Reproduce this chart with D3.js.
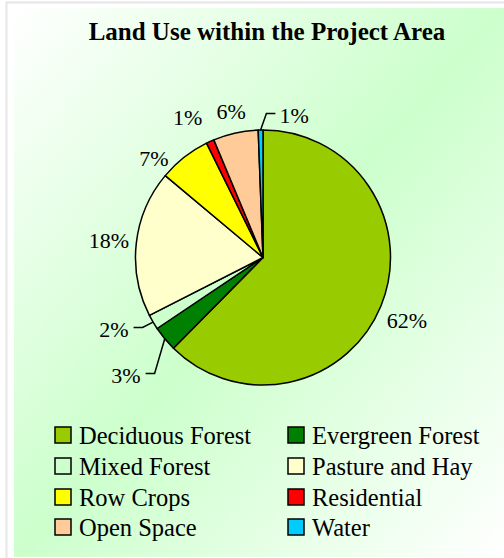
<!DOCTYPE html>
<html><head><meta charset="utf-8">
<script src="https://cdn.jsdelivr.net/npm/d3@7"></script>
<style>html,body{margin:0;padding:0;background:#fff;}svg{display:block;}</style>
</head><body>
<script>
const categories = ["Deciduous Forest","Evergreen Forest","Mixed Forest","Pasture and Hay","Row Crops","Residential","Open Space","Water"];
const values = [62.4, 3.2, 1.9, 18.6, 6.6, 1.0, 5.7, 0.6];
const pctLabels = ["62%","3%","2%","18%","7%","1%","6%","1%"];
const colors = ["#99cc00","#008000","#ccffcc","#ffffcc","#ffff00","#ff0000","#ffcc99","#00ccff"];
const title = "Land Use within the Project Area";

// label layout (polar: angle in degrees clockwise from 12 o'clock, radius), leader flag
const labelLayout = [
  {a:113.5, r:157},
  {a:229.4, r:180.5, leader:"left"},
  {a:244.4, r:165.3, leader:"left"},
  {a:276.5, r:155},
  {a:312.4, r:147.6},
  {a:331.7, r:159},
  {a:347.7, r:150},
  {a:12.3, r:145.8, leader:"right"}
];

const W=504, H=558;
const svg = d3.select("body").append("svg").attr("width",W).attr("height",H);
const defs = svg.append("defs");
const grad = defs.append("linearGradient").attr("id","bg").attr("x1","0").attr("y1","0").attr("x2","1").attr("y2","1");
grad.append("stop").attr("offset","0").attr("stop-color","#ffffff");
grad.append("stop").attr("offset","0.5").attr("stop-color","#ccffcc");
grad.append("stop").attr("offset","1").attr("stop-color","#ffffff");

svg.append("rect").attr("x",14).attr("y",8).attr("width",W-14).attr("height",549).attr("fill","url(#bg)");
svg.append("line").attr("x1",6.5).attr("y1",1.5).attr("x2",6.5).attr("y2",H).attr("stroke","#e6e6e6").attr("stroke-width",2);
svg.append("line").attr("x1",6).attr("y1",2.5).attr("x2",W).attr("y2",2.5).attr("stroke","#e6e6e6").attr("stroke-width",2);

svg.append("text").attr("x",267).attr("y",40).attr("text-anchor","middle")
  .attr("font-family","'Liberation Serif', 'Times New Roman', serif").attr("font-weight","bold")
  .attr("font-size","25px").attr("fill","#000").text(title);

const cx=263, cy=257.5, R=127.5;
const data = categories.map((c,i)=>({cat:c, value:values[i], label:pctLabels[i], color:colors[i], lay:labelLayout[i]}));
const pie = d3.pie().value(d=>d.value).sort(null);
const arcs = pie(data);
const arc = d3.arc().innerRadius(0).outerRadius(R);
const g = svg.append("g").attr("transform",`translate(${cx},${cy})`);
g.selectAll("path.slice").data(arcs).join("path").attr("class","slice")
  .attr("d",arc).attr("fill",d=>d.data.color).attr("stroke","#000").attr("stroke-width",1.5).attr("stroke-linejoin","round");

const polar=(aDeg,r)=>{const a=aDeg*Math.PI/180; return [r*Math.sin(a), -r*Math.cos(a)];};
const fontLab = "'Liberation Serif', 'Times New Roman', serif";
arcs.forEach(d=>{
  const [lx,ly]=polar(d.data.lay.a,d.data.lay.r);
  const t = g.append("text").attr("x",lx).attr("y",ly).attr("text-anchor","middle").attr("dy","0.35em")
    .attr("font-family",fontLab).attr("font-size","22px").attr("fill","#000").text(d.data.label);
  if(d.data.lay.leader){
    const bb = t.node().getBBox();
    const mid=(d.startAngle+d.endAngle)/2;
    const px=R*Math.sin(mid), py=-R*Math.cos(mid);
    const yl = ly-1.5;
    let pts;
    if(d.data.lay.leader==="left"){
      const xe=bb.x+bb.width+5; pts=[[xe,yl],[xe+9,yl],[px,py]];
    } else {
      const xe=bb.x-4; pts=[[xe,yl],[xe-9,yl],[px,py]];
    }
    g.append("path").attr("d",d3.line()(pts)).attr("fill","none").attr("stroke","#000").attr("stroke-width",1.5);
  }
});

const leg = svg.append("g");
const colX=[55,288], rowY=[435,466,497,527];
data.forEach((d,i)=>{
  const x=colX[i%2], y=rowY[Math.floor(i/2)];
  leg.append("rect").attr("x",x).attr("y",y-8).attr("width",16).attr("height",16)
    .attr("fill",d.color).attr("stroke","#000").attr("stroke-width",1.5);
  leg.append("text").attr("x",x+24).attr("y",y).attr("dy","0.35em")
    .attr("font-family",fontLab).attr("font-size","24.5px").attr("fill","#000").text(d.cat);
});
</script>
</body></html>
